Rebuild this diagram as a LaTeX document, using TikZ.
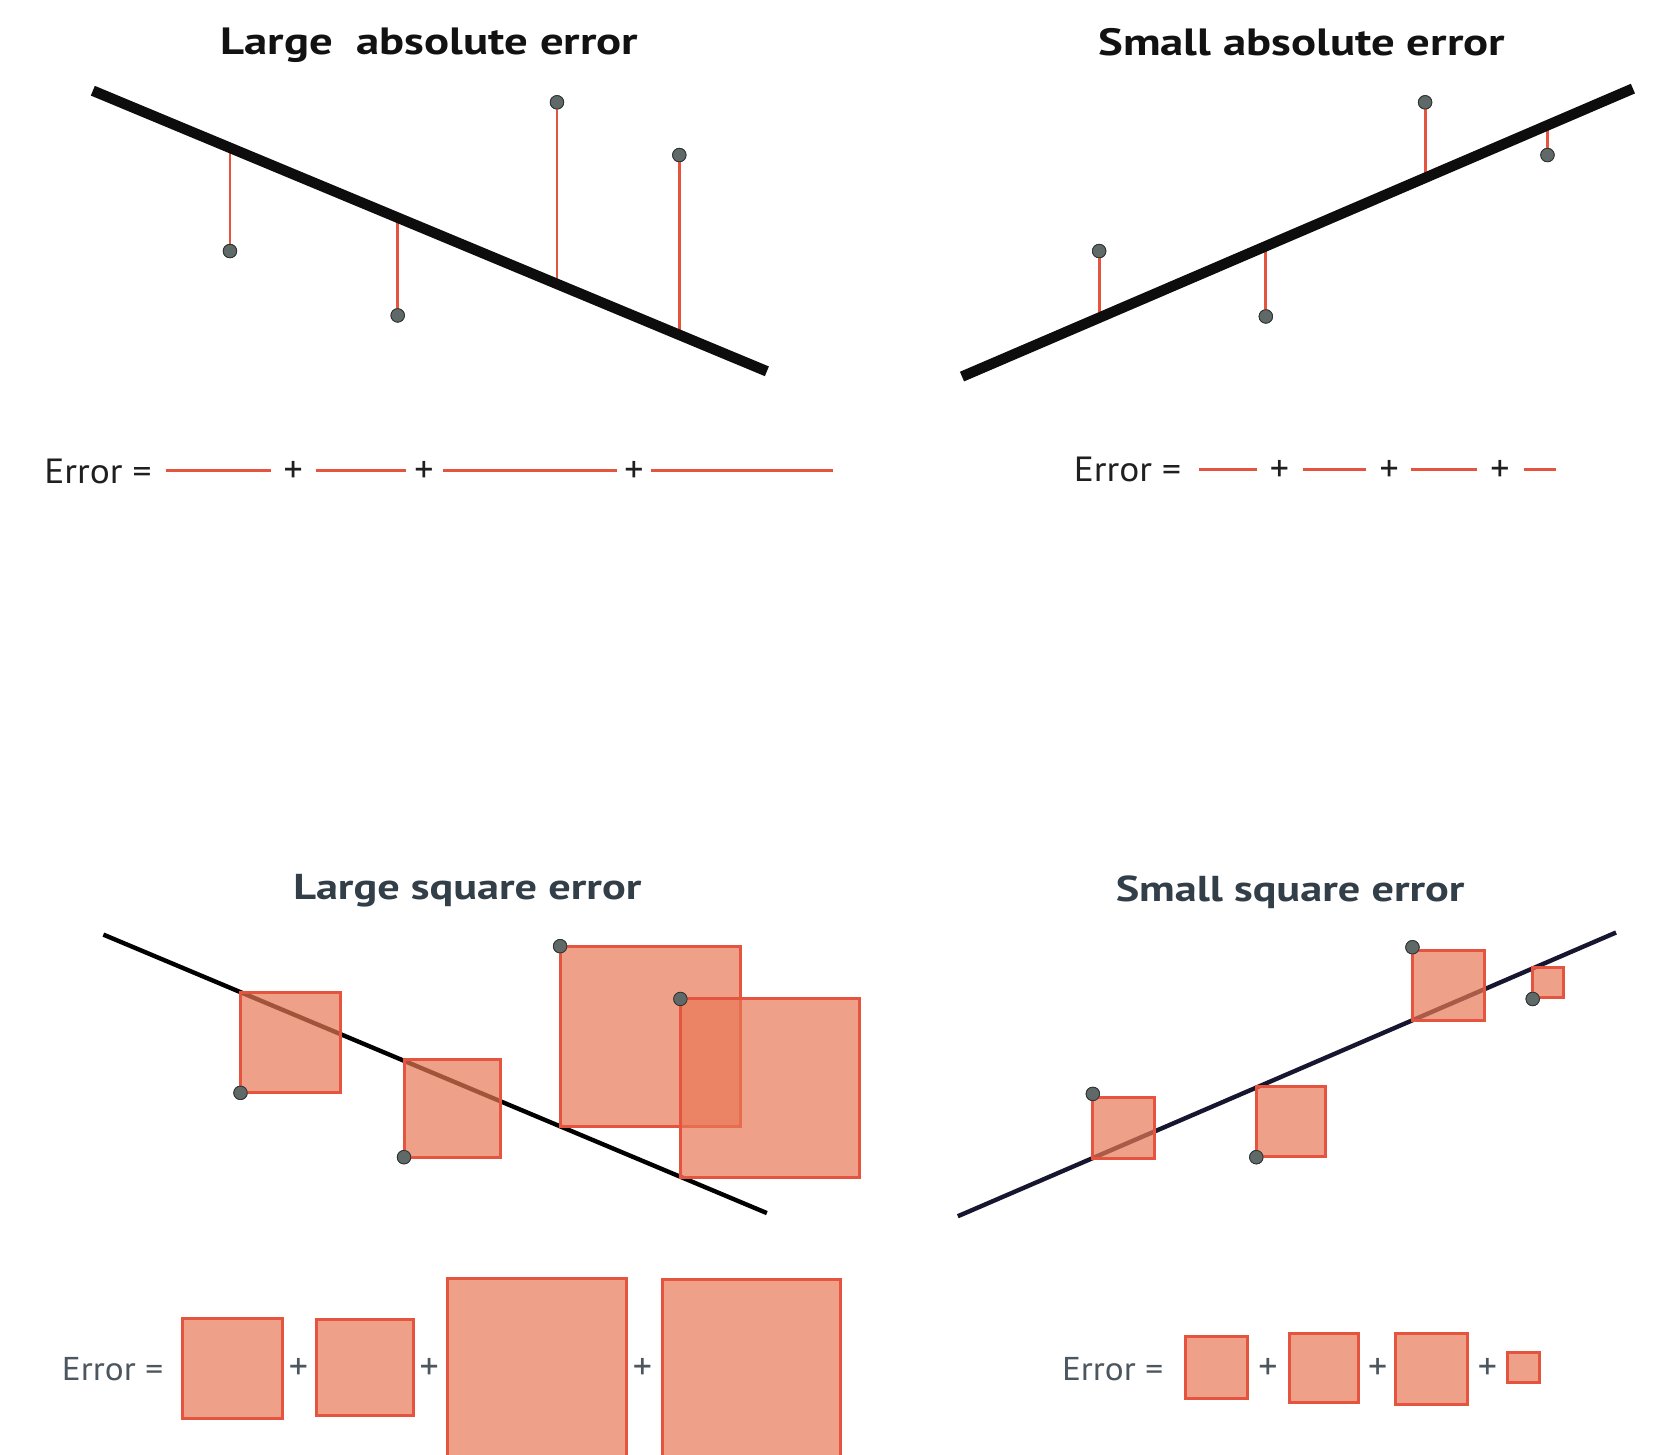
\documentclass[tikz,border=0pt]{standalone}
\usepackage{graphicx}
\usepackage{fontspec}
\setmainfont{PT Sans}
\definecolor{errred}{RGB}{229,84,62}
\definecolor{sqfill}{RGB}{232,120,85}
\definecolor{dotgrey}{RGB}{95,105,104}
\definecolor{dotedge}{RGB}{45,50,50}
\definecolor{slatetitle}{RGB}{50,62,72}
\definecolor{slatetext}{RGB}{75,86,94}
\definecolor{navyline}{RGB}{22,22,48}
\newcommand{\wtitle}[1]{\scalebox{1.23}[1]{#1}}
\newcommand{\werr}[1]{\scalebox{1.07}[1]{#1}}
\begin{document}
\begin{tikzpicture}[x=1.0548pt,y=-1.0548pt,
  fitthick/.style={line width=10.5pt,draw=black!95},
  fitthin/.style={line width=4.4pt},
  resid/.style={draw=errred,line width=2.8pt},
  errbar/.style={draw=errred,line width=3.3pt},
  dot/.style={circle,fill=dotgrey,draw=dotedge,line width=0.8pt,inner sep=0pt,minimum size=13.5pt},
  sq/.style={fill=sqfill,fill opacity=0.7,draw=errred,line width=3pt},
  titletop/.style={anchor=base,font=\fontsize{38}{46}\selectfont\bfseries,text=black!93},
  titlebot/.style={anchor=base,font=\fontsize{36}{44}\selectfont\bfseries,text=slatetitle},
  errtop/.style={anchor=base east,font=\fontsize{35}{42}\selectfont,text=black!88},
  errbot/.style={anchor=base east,font=\fontsize{33}{40}\selectfont,text=slatetext},
  plustop/.style={font=\fontsize{38}{44}\selectfont,text=black!88},
  plusbot/.style={font=\fontsize{38}{44}\selectfont,text=slatetext}
]
\useasboundingbox (0,0) rectangle (1568,1379);
\clip (0,0) rectangle (1568,1379);

% ---------------- Top left: Large absolute error
\node[titletop] (t1) at (407,52) {\wtitle{Large~ absolute error}};
\coordinate (la) at (88,86);
\coordinate (lb) at (727,352);
\node[dot] (p1) at (218,238) {};
\node[dot] (p2) at (377,299) {};
\node[dot] (p3) at (528,97) {};
\node[dot] (p4) at (644,147) {};
\coordinate (f1) at (218,140.1);
\coordinate (f2) at (377,206.3);
\coordinate (f3) at (528,269.2);
\coordinate (f4) at (644,317.5);
\foreach \i in {1,...,4} \draw[resid] (p\i.center) -- (f\i);
\draw[fitthick] (la) -- (lb);
\foreach \i in {1,...,4} \node[dot] at (p\i) {};

\node[errtop] (e1) at (147,458) {\werr{Error =}};
\draw[errbar] (157,446) -- (257,446);
\node[plustop] (e1p1) at (278,447) {+};
\draw[errbar] (300,446) -- (385,446);
\node[plustop] (e1p2) at (402,447) {+};
\draw[errbar] (420,446) -- (585,446);
\node[plustop] (e1p3) at (601,447) {+};
\draw[errbar] (617,446) -- (790,446);

% ---------------- Top right: Small absolute error
\node[titletop] (t2) at (1234,53) {\wtitle{Small absolute error}};
\coordinate (ra) at (912,357);
\coordinate (rb) at (1548,84);
\node[dot] (q1) at (1042,238) {};
\node[dot] (q2) at (1200,300) {};
\node[dot] (q3) at (1351,97) {};
\node[dot] (q4) at (1467,147) {};
\coordinate (g1) at (1042,301.2);
\coordinate (g2) at (1200,233.4);
\coordinate (g3) at (1351,168.6);
\coordinate (g4) at (1467,118.8);
\foreach \i in {1,...,4} \draw[resid] (q\i.center) -- (g\i);
\draw[fitthick] (ra) -- (rb);
\foreach \i in {1,...,4} \node[dot] at (q\i) {};

\node[errtop] (e2) at (1123,456) {\werr{Error =}};
\draw[errbar] (1137,445) -- (1192,445);
\node[plustop] (e2p1) at (1213,446) {+};
\draw[errbar] (1235,445) -- (1295,445);
\node[plustop] (e2p2) at (1317,446) {+};
\draw[errbar] (1338,445) -- (1400,445);
\node[plustop] (e2p3) at (1422,446) {+};
\draw[errbar] (1445,445) -- (1475,445);

% ---------------- Bottom left: Large square error
\node[titlebot] (t3) at (443,853) {\wtitle{Large square error}};
\coordinate (sa) at (98,886);
\coordinate (sb) at (727,1150);
\draw[fitthin,draw=black] (sa) -- (sb);
\node[dot] (s1) at (228,1036) {};
\node[dot] (s2) at (383,1097) {};
\node[dot] (s3) at (531,897) {};
\node[dot] (s4) at (645,947) {};
\draw[sq] (228,941) rectangle (323,1036);
\draw[sq] (383,1004) rectangle (474,1097);
\draw[sq] (531,897) rectangle (702,1068);
\draw[sq] (645,947) rectangle (815,1116);
\foreach \i in {1,...,4} \node[dot] at (s\i) {};

\node[errbot] (e3) at (158,1309) {\werr{Error =}};
\draw[sq] (173,1250) rectangle (268,1345);
\node[plusbot] (e3p1) at (283,1298) {+};
\draw[sq] (300,1251) rectangle (392,1342);
\node[plusbot] (e3p2) at (407,1298) {+};
\draw[sq] (424,1212) rectangle (594,1383);
\node[plusbot] (e3p3) at (609,1298) {+};
\draw[sq] (628,1213) rectangle (797,1384);

% ---------------- Bottom right: Small square error
\node[titlebot] (t4) at (1223,855) {\wtitle{Small square error}};
\coordinate (ta) at (908,1153);
\coordinate (tb) at (1532,884);
\draw[fitthin,draw=navyline] (ta) -- (tb);
\node[dot] (u1) at (1036,1037) {};
\node[dot] (u2) at (1191,1097) {};
\node[dot] (u3) at (1339,898) {};
\node[dot] (u4) at (1453,947) {};
\draw[sq] (1036,1040) rectangle (1094,1098);
\draw[sq] (1191,1030) rectangle (1257,1096);
\draw[sq] (1339,901) rectangle (1407,967);
\draw[sq] (1453,917) rectangle (1482,946);
\foreach \i in {1,...,4} \node[dot] at (u\i) {};

\node[errbot] (e4) at (1106,1309) {\werr{Error =}};
\draw[sq] (1124,1267) rectangle (1183,1326);
\node[plusbot] (e4p1) at (1202,1298) {+};
\draw[sq] (1222,1264) rectangle (1288,1330);
\node[plusbot] (e4p2) at (1306,1298) {+};
\draw[sq] (1323,1264) rectangle (1391,1331);
\node[plusbot] (e4p3) at (1410,1298) {+};
\draw[sq] (1429,1282) rectangle (1459,1311);
\end{tikzpicture}
\end{document}
